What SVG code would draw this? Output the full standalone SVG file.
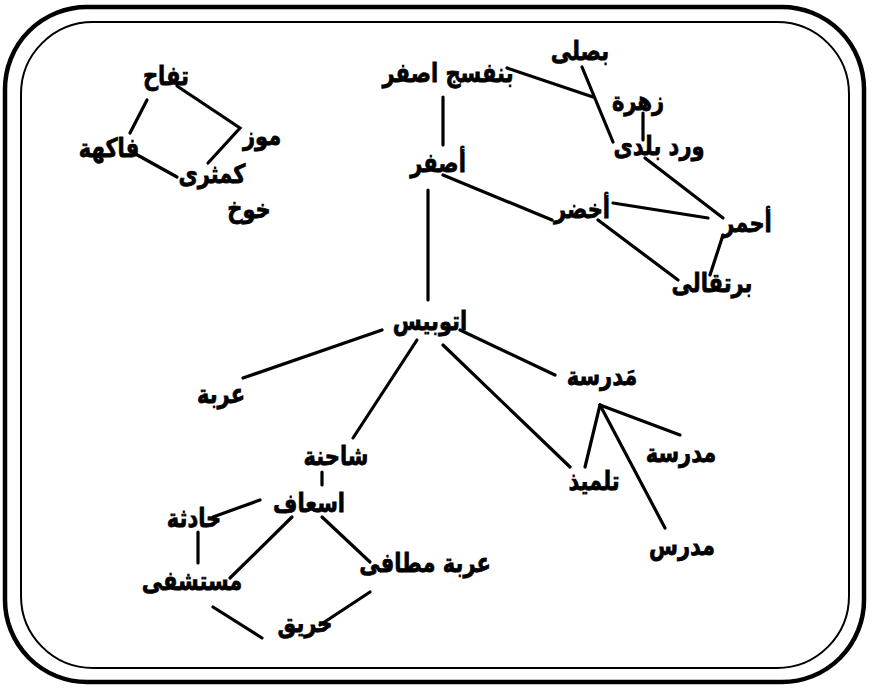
<svg xmlns="http://www.w3.org/2000/svg" width="874" height="693" viewBox="0 0 874 693">
<style>
.frame{fill:none;stroke:#000}
.lbl{font-family:"DejaVu Sans",sans-serif;font-weight:bold;font-size:21px;fill:#000;stroke:#000;stroke-width:0.6;text-anchor:middle}
.c line,.c polyline{stroke:#000;stroke-width:3.2;stroke-linecap:round;fill:none}
</style>
<rect width="874" height="693" fill="#fff"/>
<g id="frame">
<rect class="frame" x="5" y="7" width="859" height="675" rx="82" ry="82" stroke-width="4.5"/>
<rect class="frame" x="21" y="22" width="828" height="646" rx="72" ry="72" stroke-width="2"/>
</g>
<g id="connectors" class="c">
<polyline points="177,86 240,128 208,163"/>
<line x1="147" y1="100" x2="130" y2="133"/>
<line x1="132" y1="152" x2="177" y2="177"/>
<line x1="507" y1="68" x2="593" y2="97"/>
<line x1="582" y1="67" x2="613" y2="142"/>
<line x1="643" y1="113" x2="643" y2="140"/>
<line x1="443" y1="97" x2="443" y2="145"/>
<line x1="443" y1="175" x2="552" y2="220"/>
<line x1="613" y1="203" x2="708" y2="218"/>
<line x1="645" y1="158" x2="723" y2="218"/>
<line x1="598" y1="220" x2="678" y2="280"/>
<line x1="723" y1="235" x2="710" y2="275"/>
<line x1="428" y1="190" x2="428" y2="300"/>
<line x1="382" y1="330" x2="243" y2="378"/>
<line x1="417" y1="340" x2="353" y2="438"/>
<line x1="460" y1="330" x2="555" y2="375"/>
<line x1="443" y1="345" x2="570" y2="467"/>
<line x1="600" y1="405" x2="585" y2="467"/>
<line x1="600" y1="405" x2="680" y2="435"/>
<line x1="600" y1="405" x2="665" y2="528"/>
<line x1="322" y1="472" x2="322" y2="485"/>
<line x1="260" y1="500" x2="213" y2="517"/>
<line x1="292" y1="517" x2="230" y2="578"/>
<line x1="322" y1="517" x2="370" y2="562"/>
<line x1="198" y1="532" x2="198" y2="563"/>
<line x1="370" y1="592" x2="320" y2="625"/>
<line x1="213" y1="607" x2="262" y2="638"/>
</g>
<g id="n-tuffah"><text class="lbl" transform="translate(166,85) scale(1,1.25)">تفاح</text></g>
<g id="n-mawz"><text class="lbl" transform="translate(262,145) scale(1,1.25)">موز</text></g>
<g id="n-fakiha"><text class="lbl" transform="translate(109,157) scale(1,1.25)">فاكهة</text></g>
<g id="n-kummathra"><text class="lbl" transform="translate(212,183) scale(1,1.25)">كمثرى</text></g>
<g id="n-khawkh"><text class="lbl" transform="translate(249,218) scale(1,1.25)">خوخ</text></g>
<g id="n-banafsaj"><text class="lbl" transform="translate(448,82) scale(1,1.25)">بنفسج اصفر</text></g>
<g id="n-basali"><text class="lbl" transform="translate(580,60) scale(1,1.25)">بصلى</text></g>
<g id="n-zahra"><text class="lbl" transform="translate(638,110) scale(1,1.25)">زهرة</text></g>
<g id="n-ward"><text class="lbl" transform="translate(659,155) scale(1,1.25)">ورد بلدى</text></g>
<g id="n-asfar"><text class="lbl" transform="translate(438,172) scale(1,1.25)">أصفر</text></g>
<g id="n-akhdar"><text class="lbl" transform="translate(582,218) scale(1,1.25)">أخضر</text></g>
<g id="n-ahmar"><text class="lbl" transform="translate(747,232) scale(1,1.25)">أحمر</text></g>
<g id="n-burtuqali"><text class="lbl" transform="translate(712,292) scale(1,1.25)">برتقالى</text></g>
<g id="n-otobis"><text class="lbl" transform="translate(430,330) scale(1,1.25)">اتوبيس</text></g>
<g id="n-arabah"><text class="lbl" transform="translate(221,403) scale(1,1.25)">عربة</text></g>
<g id="n-madrasa1"><text class="lbl" transform="translate(602,385) scale(1,1.25)">مَدرسة</text></g>
<g id="n-shahina"><text class="lbl" transform="translate(336,465) scale(1,1.25)">شاحنة</text></g>
<g id="n-tilmidh"><text class="lbl" transform="translate(594,490) scale(1,1.25)">تلميذ</text></g>
<g id="n-madrasa2"><text class="lbl" transform="translate(681,462) scale(1,1.25)">مدرسة</text></g>
<g id="n-isaf"><text class="lbl" transform="translate(309,512) scale(1,1.25)">اسعاف</text></g>
<g id="n-haditha"><text class="lbl" transform="translate(194,527) scale(1,1.25)">حادثة</text></g>
<g id="n-mudarris"><text class="lbl" transform="translate(682,555) scale(1,1.25)">مدرس</text></g>
<g id="n-matafi"><text class="lbl" transform="translate(425,572) scale(1,1.25)">عربة مطافى</text></g>
<g id="n-mustashfa"><text class="lbl" transform="translate(192,590) scale(1,1.25)">مستشفى</text></g>
<g id="n-hariq"><text class="lbl" transform="translate(305,632) scale(1,1.25)">حريق</text></g>
</svg>
